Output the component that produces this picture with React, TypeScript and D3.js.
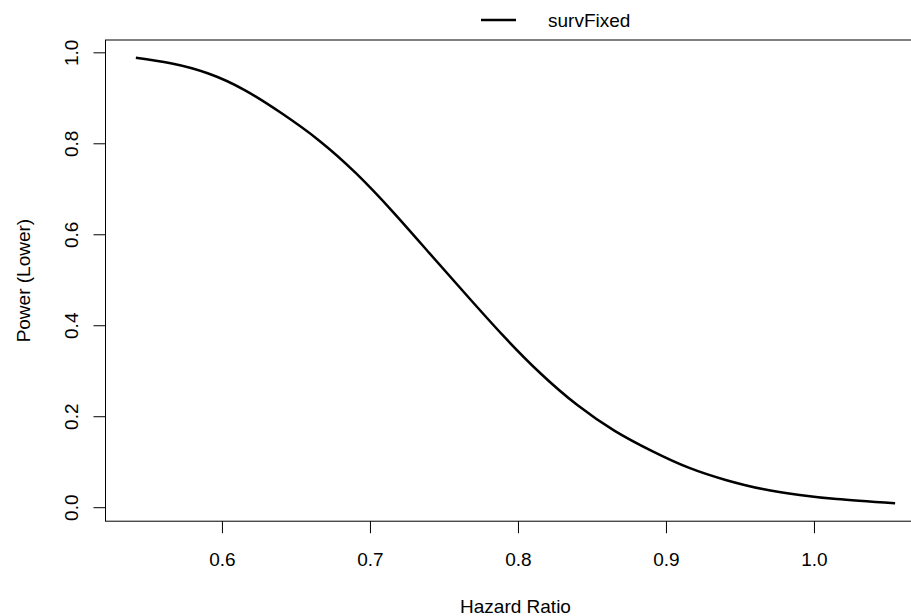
import React from 'react'
import * as d3 from 'd3'

// hazard ratio vs power
const hazardRatio = [0.5415, 0.565, 0.59, 0.615, 0.64, 0.665, 0.69, 0.715, 0.74, 0.765, 0.79, 0.815,
    0.84, 0.865, 0.89, 0.915, 0.94, 0.965, 0.99, 1.015, 1.0545]
const powerLower = [0.989, 0.977, 0.955, 0.918, 0.867, 0.808, 0.736, 0.651, 0.559, 0.467, 0.377, 0.295,
    0.225, 0.169, 0.125, 0.088, 0.061, 0.041, 0.028, 0.019, 0.0095]
const xTicks = [0.6, 0.7, 0.8, 0.9, 1.0]
const yTicks = [0.0, 0.2, 0.4, 0.6, 0.8, 1.0]
const seriesName = 'survFixed'

const W = 911
const H = 616
const left = 105.5
const top = 40
const bottom = 521.2
const right = 925.5
const font = '"Liberation Sans", Arial, Helvetica, sans-serif'
const fs = 19

// R style 4% expansion
const expand = (ext: [number, number]) => {
    let pad = (ext[1] - ext[0]) * 0.04
    return [ext[0] - pad, ext[1] + pad]
}

export default function App() {
    let x = d3.scaleLinear().domain(expand(d3.extent(hazardRatio) as [number, number])).range([left, right])
    let y = d3.scaleLinear().domain(expand(d3.extent(powerLower) as [number, number])).range([bottom, top])

    let pts = hazardRatio.map((h, i) => [h, powerLower[i]] as [number, number])
    let line = d3.line<[number, number]>()
        .x(d => x(d[0]))
        .y(d => y(d[1]))
        .curve(d3.curveNatural)

    return (
        <svg width={W} height={H} style={{ position: 'absolute', left: 0, top: 0, background: '#fff' }}
            fontFamily={font} fontSize={fs}>
            <rect x={left} y={top} width={right - left} height={bottom - top} fill="none" stroke="#000" strokeWidth={1} />
            <path d={line(pts) || ''} fill="none" stroke="#000" strokeWidth={2.5} />

            {xTicks.map(t => (
                <g key={'x' + t}>
                    <line x1={x(t)} x2={x(t)} y1={bottom} y2={bottom + 12} stroke="#000" />
                    <text x={x(t)} y={565.7} textAnchor="middle">{t.toFixed(1)}</text>
                </g>
            ))}
            {yTicks.map(t => (
                <g key={'y' + t}>
                    <line x1={left - 12} x2={left} y1={y(t)} y2={y(t)} stroke="#000" />
                    <text transform={`translate(77.5, ${y(t)}) rotate(-90)`} textAnchor="middle">{t.toFixed(1)}</text>
                </g>
            ))}

            <text x={(left + right) / 2} y={613.3} textAnchor="middle">Hazard Ratio</text>
            <text transform={`translate(30, ${(top + bottom) / 2}) rotate(-90)`} textAnchor="middle">Power (Lower)</text>

            <line x1={481} x2={516} y1={20} y2={20} stroke="#000" strokeWidth={2.5} />
            <text x={548} y={26.5}>{seriesName}</text>
        </svg>
    )
}
